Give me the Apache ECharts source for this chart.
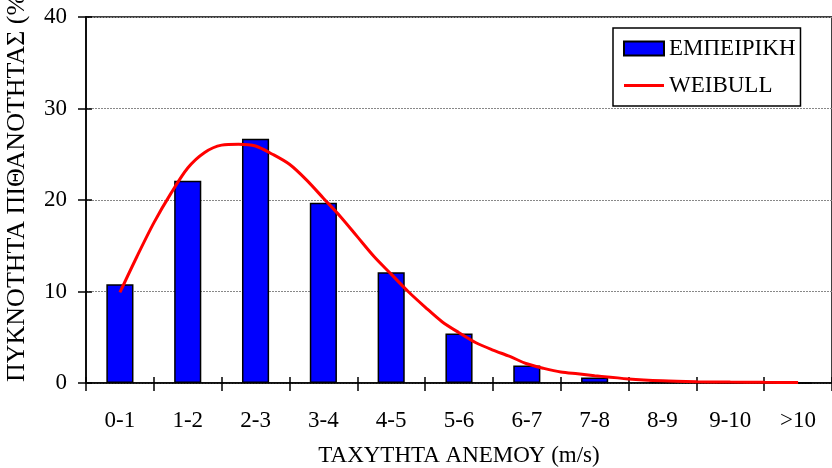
<!DOCTYPE html>
<html>
<head>
<meta charset="utf-8">
<script src="https://cdn.jsdelivr.net/npm/echarts@6/dist/echarts.min.js"></script>
<style>html,body{margin:0;padding:0;background:#fff}#c{width:832px;height:468px}</style>
</head>
<body>
<div id="c"></div>
<script>
const categories = ['0-1','1-2','2-3','3-4','4-5','5-6','6-7','7-8','8-9','9-10','>10'];
const empirical = [10.8, 22.1, 26.7, 19.7, 12.1, 5.4, 1.9, 0.6, 0.1, 0.05, 0];
// Weibull curve, positions in category-index units
const weibullX = [0,0.25,0.5,0.75,1,1.25,1.5,1.75,2,2.25,2.5,2.75,3,3.25,3.5,3.75,4,4.25,4.5,4.75,5,5.25,5.5,5.75,6,6.25,6.5,6.75,7,7.5,8,8.5,9,9.5,10];
const weibullY = [9.9,13.8,17.5,20.7,23.5,25.2,26.0,26.1,25.9,25.0,23.9,22.2,20.2,18.2,16.0,13.8,11.9,10.0,8.3,6.7,5.5,4.4,3.6,2.9,2.1,1.6,1.2,1.0,0.8,0.45,0.25,0.15,0.1,0.07,0.05];
const yTicks = [0,10,20,30,40];
const seriesNames = ['ΕΜΠΕΙΡΙΚΗ','WEIBULL'];
const yTitle = 'ΠΥΚΝΟΤΗΤΑ ΠΙΘΑΝΟΤΗΤΑΣ (%)';
const xTitle = 'ΤΑΧΥΤΗΤΑ ΑΝΕΜΟΥ (m/s)';

const FONT = 'Liberation Serif';
const chart = echarts.init(document.getElementById('c'), null, {renderer:'canvas'});
chart.setOption({
  animation: false,
  textStyle: {fontFamily: FONT, color: '#000'},
  grid: {left: 86, right: 0, top: 17, bottom: 85, outerBoundsMode: 'none', containLabel: false,
    show: true, borderColor: '#000', borderWidth: 1.5, backgroundColor: 'transparent'},
  legend: {
    orient: 'vertical', left: 613, top: 28,
    padding: [9, 5, 9, 10], itemGap: 14, itemWidth: 40, itemHeight: 14,
    borderColor: '#000', borderWidth: 1.5,
    textStyle: {fontFamily: FONT, fontSize: 23, color: '#000'},
    data: [{name: seriesNames[0], icon: 'rect'}, {name: seriesNames[1], icon: 'path://M0,0L40,0L40,3L0,3Z', itemStyle: {color: '#ff0000'}}]
  },
  xAxis: [{
    type: 'category', data: categories, boundaryGap: true,
    axisLine: {lineStyle: {color: '#000', width: 1.5}},
    axisTick: {show: true, length: 8, lineStyle: {color: '#000', width: 1.5}},
    axisLabel: {fontFamily: FONT, fontSize: 23, color: '#000', margin: 26},
    name: xTitle, nameLocation: 'middle', nameGap: 61,
    nameTextStyle: {fontFamily: FONT, fontSize: 23, color: '#000'}
  }, {
    type: 'value', min: -0.5, max: 10.5, show: false
  }, {
    type: 'category', data: categories, boundaryGap: true, position: 'bottom',
    axisLine: {show: false}, axisLabel: {show: false},
    axisTick: {show: true, inside: true, length: 6, lineStyle: {color: '#000', width: 1.5}}
  }],
  yAxis: [{
    type: 'value', min: 0, max: 40, interval: 10,
    axisLine: {show: true, onZero: false, lineStyle: {color: '#000', width: 1.5}},
    axisTick: {show: true, length: 8, lineStyle: {color: '#000', width: 1.5}},
    axisLabel: {fontFamily: FONT, fontSize: 23, color: '#000', margin: 19,
      formatter: v => yTicks.includes(v) ? String(v) : ''},
    splitLine: {show: true, lineStyle: {color: '#888', width: 1, type: [2, 1]}}
  }, {
    type: 'value', min: 0, max: 40, interval: 10, position: 'left',
    axisLine: {show: false, onZero: false}, axisLabel: {show: false}, splitLine: {show: false},
    axisTick: {show: true, inside: true, length: 6, lineStyle: {color: '#000', width: 1.5}}
  }],
  graphic: [{
    type: 'text', x: 17, y: 382, rotation: Math.PI / 2,
    style: {text: yTitle, fontFamily: FONT, fontSize: 26, fill: '#000', textAlign: 'left', textVerticalAlign: 'middle'}
  }],
  series: [{
    name: seriesNames[0], type: 'bar', data: empirical, xAxisIndex: 0,
    barCategoryGap: '60%',
    itemStyle: {color: '#0000ff', borderColor: '#000', borderWidth: 1.5}
  }, {
    name: seriesNames[1], type: 'line', xAxisIndex: 1,
    data: weibullX.map((x, i) => [x, weibullY[i]]),
    showSymbol: false, symbol: 'none', smooth: 0.3,
    lineStyle: {color: '#ff0000', width: 3},
    itemStyle: {color: '#ff0000'}
  }]
});
</script>
</body>
</html>
